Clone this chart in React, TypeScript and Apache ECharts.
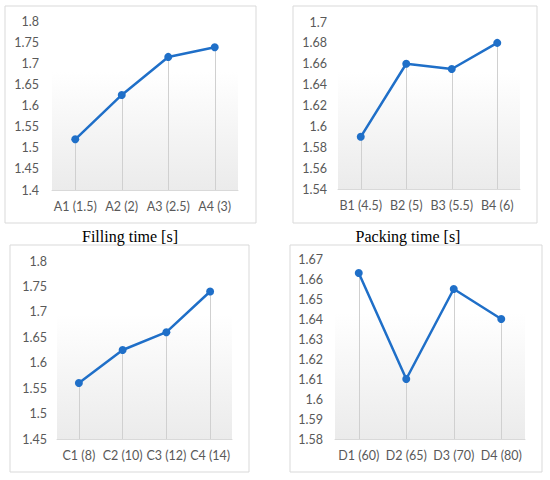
import React, { useEffect, useRef } from "react";
import * as echarts from "echarts";

const catsA = ["A1 (1.5)", "A2 (2)", "A3 (2.5)", "A4 (3)"];
const valsA = [1.52, 1.625, 1.715, 1.738];
const catsB = ["B1 (4.5)", "B2 (5)", "B3 (5.5)", "B4 (6)"];
const valsB = [1.59, 1.66, 1.655, 1.68];
const catsC = ["C1 (8)", "C2 (10)", "C3 (12)", "C4 (14)"];
const valsC = [1.56, 1.625, 1.66, 1.74];
const catsD = ["D1 (60)", "D2 (65)", "D3 (70)", "D4 (80)"];
const valsD = [1.663, 1.61, 1.655, 1.64];

const yMin = [1.4, 1.54, 1.45, 1.58];
const yMax = [1.8, 1.7, 1.8, 1.67];
const yStep = [0.05, 0.02, 0.05, 0.01];

const titles = ["Filling time [s]", "Packing time [s]"];

const BLUE = "#1F6FC8";
const LABEL = "#595959";
const FONT = "Lato";

export default function App() {
  const ref = useRef<HTMLDivElement>(null);
  useEffect(() => {
    if (!ref.current) return;
    const chart = echarts.init(ref.current, null, { renderer: "svg" });
    const cats = [catsA, catsB, catsC, catsD];
    const vals = [valsA, valsB, valsC, valsD];
    const grids = [
      { left: 52, top: 21, width: 186, height: 169 },
      { left: 338, top: 22, width: 182, height: 167 },
      { left: 57, top: 261, width: 175, height: 178 },
      { left: 335, top: 259, width: 190, height: 180 },
    ];
    const labelMargins = [13, 11, 10, 12];
    const bg = {
      type: "linear",
      x: 0,
      y: 0,
      x2: 0,
      y2: 1,
      colorStops: [
        { offset: 0, color: "#ffffff" },
        { offset: 0.3, color: "#ffffff" },
        { offset: 1, color: "#ebebeb" },
      ],
    };
    const frames = [
      { x: 5, y: 6, width: 251, height: 217 },
      { x: 293, y: 6, width: 244, height: 217 },
      { x: 10, y: 245, width: 239, height: 227 },
      { x: 290, y: 245, width: 252, height: 227 },
    ];
    const option: any = {
      animation: false,
      backgroundColor: "#ffffff",
      grid: grids.map((g) => ({
        ...g,
        show: true,
        borderWidth: 0,
        backgroundColor: bg,
      })),
      xAxis: cats.map((c, i) => ({
        type: "category",
        gridIndex: i,
        data: c,
        boundaryGap: true,
        axisLine: { show: true, lineStyle: { color: "#d9d9d9", width: 1 } },
        axisTick: { show: false },
        splitLine: { show: false },
        axisLabel: {
          color: LABEL,
          fontFamily: FONT,
          fontSize: 12.5,
          margin: 10,
          interval: 0,
        },
      })),
      yAxis: vals.map((_, i) => ({
        type: "value",
        gridIndex: i,
        min: yMin[i],
        max: yMax[i],
        interval: yStep[i],
        axisLine: { show: false },
        axisTick: { show: false },
        splitLine: { show: false },
        axisLabel: {
          color: LABEL,
          fontFamily: FONT,
          fontSize: 12.5,
          margin: labelMargins[i],
          formatter: (v: number) => String(parseFloat(v.toFixed(4))),
        },
      })),
      series: vals.map((v, i) => ({
        type: "line",
        xAxisIndex: i,
        yAxisIndex: i,
        data: v,
        symbol: "circle",
        symbolSize: 8,
        lineStyle: { color: BLUE, width: 2.5 },
        itemStyle: { color: BLUE },
        markLine: {
          silent: true,
          symbol: "none",
          label: { show: false },
          lineStyle: { color: "#d0d0d0", width: 1, type: "solid" },
          data: v.map((val, j) => [
            { coord: [j, yMin[i]] },
            { coord: [j, val] },
          ]),
          z: 1,
        },
      })),
      graphic: [
        ...frames.map((f) => ({
          type: "rect",
          shape: f,
          style: { fill: "none", stroke: "#d9d9d9", lineWidth: 1 },
          silent: true,
        })),
        {
          type: "text",
          x: 130,
          y: 236,
          style: {
            text: titles[0],
            fontFamily: "Liberation Serif",
            fontSize: 16,
            fill: "#000000",
            align: "center",
            verticalAlign: "middle",
          },
        },
        {
          type: "text",
          x: 408,
          y: 236,
          style: {
            text: titles[1],
            fontFamily: "Liberation Serif",
            fontSize: 16,
            fill: "#000000",
            align: "center",
            verticalAlign: "middle",
          },
        },
      ],
    };
    chart.setOption(option);
    return () => chart.dispose();
  }, []);
  return (
    <div
      ref={ref}
      style={{ position: "fixed", left: 0, top: 0, width: 550, height: 480 }}
    />
  );
}
